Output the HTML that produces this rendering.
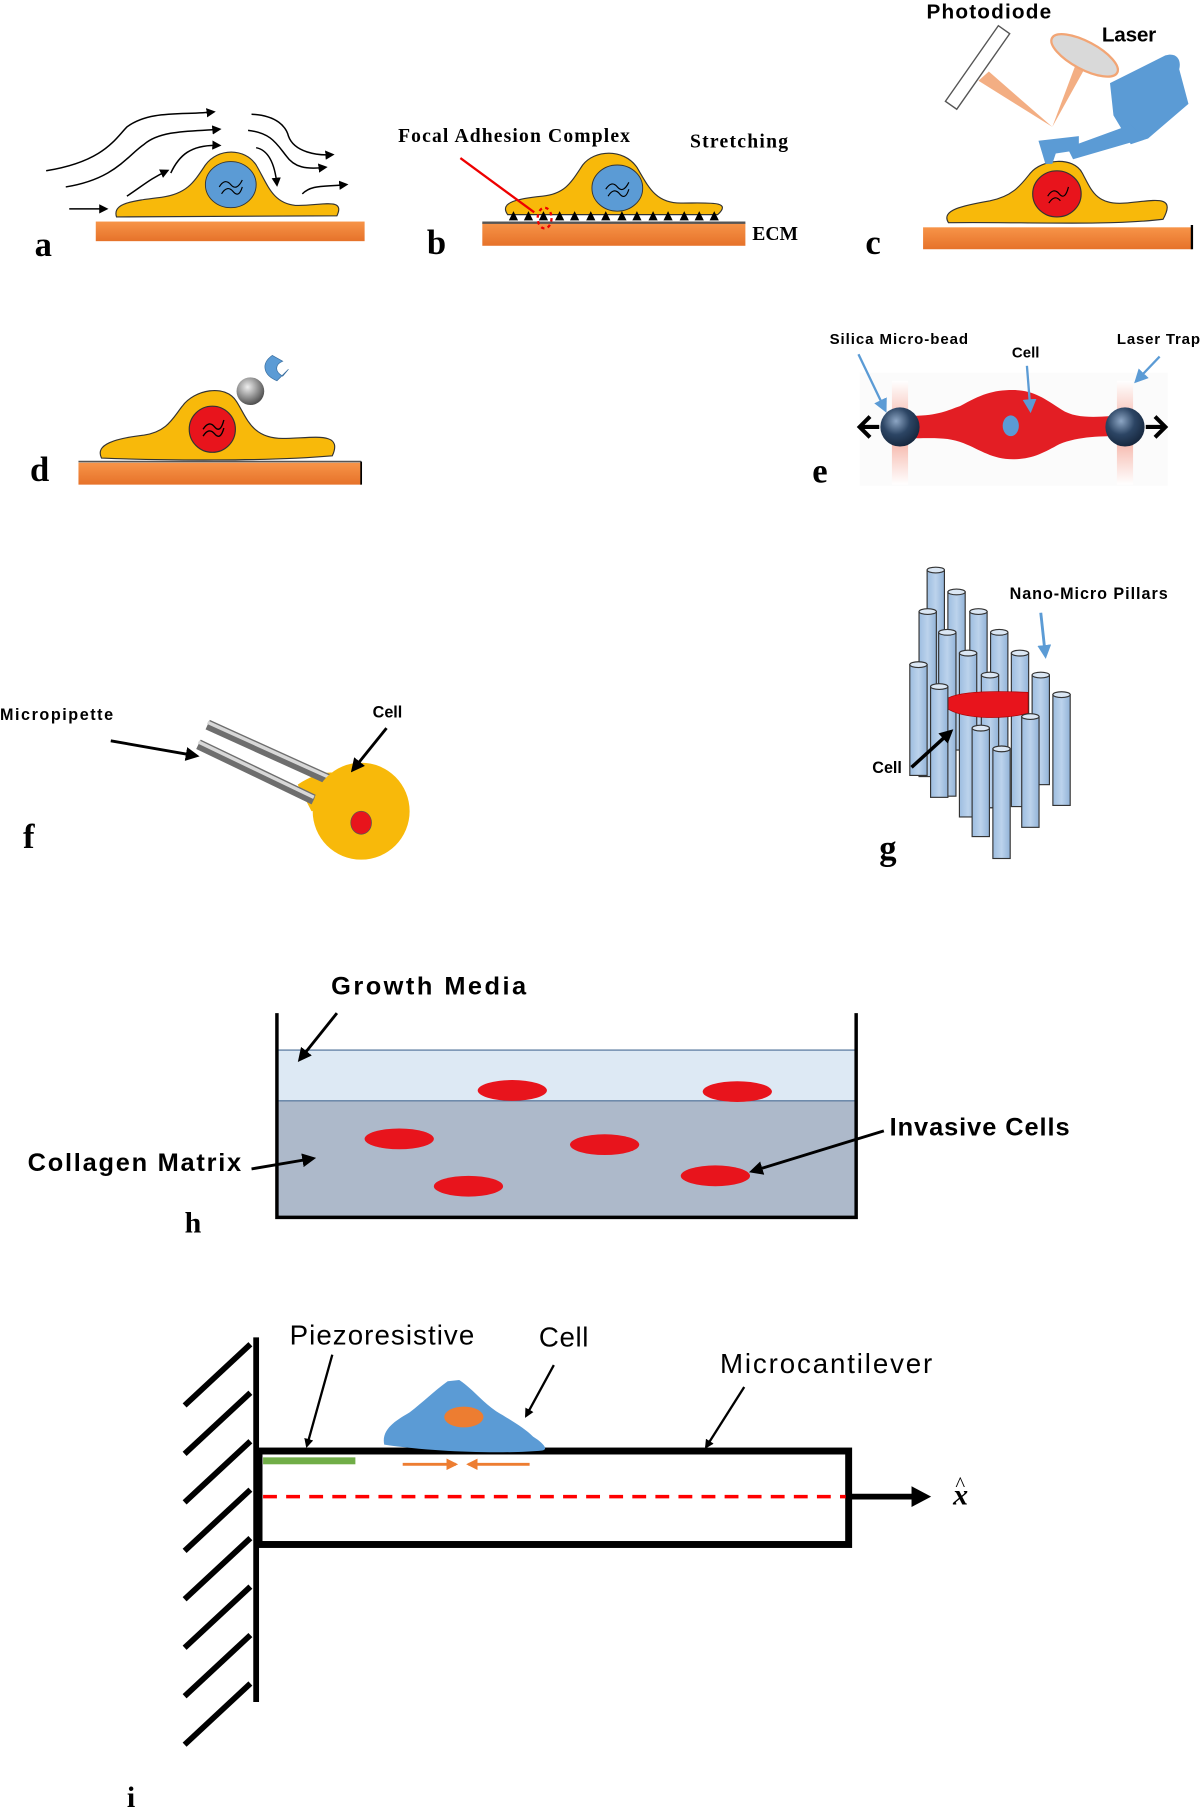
<!DOCTYPE html>
<html><head><meta charset="utf-8"><style>html,body{margin:0;padding:0;background:#fff}svg{display:block}</style></head>
<body>
<svg width="1200" height="1807" viewBox="0 0 1040 1566" preserveAspectRatio="none" xmlns="http://www.w3.org/2000/svg">
<defs>
<linearGradient id="sub" x1="0" y1="0" x2="0" y2="1"><stop offset="0" stop-color="#f79448"/><stop offset="1" stop-color="#e6722a"/></linearGradient>
<linearGradient id="pil" x1="0" y1="0" x2="1" y2="0"><stop offset="0" stop-color="#9dbde0"/><stop offset="0.5" stop-color="#bcd3ec"/><stop offset="1" stop-color="#92b3d8"/></linearGradient>
<radialGradient id="bead" cx="0.4" cy="0.35" r="0.7"><stop offset="0" stop-color="#8da6c4"/><stop offset="0.5" stop-color="#2c4564"/><stop offset="1" stop-color="#14243a"/></radialGradient>
<radialGradient id="gb" cx="0.4" cy="0.35" r="0.7"><stop offset="0" stop-color="#eee"/><stop offset="1" stop-color="#444"/></radialGradient>
<linearGradient id="trap" x1="0" y1="0" x2="0" y2="1"><stop offset="0" stop-color="#fff"/><stop offset="0.5" stop-color="#f4a99b"/><stop offset="1" stop-color="#fff"/></linearGradient>
<marker id="ah" markerWidth="8" markerHeight="8" refX="6" refY="4" orient="auto" markerUnits="userSpaceOnUse"><path d="M0,0 L8,4 L0,8 Z" fill="#000"/></marker>
<marker id="ahb" markerWidth="12" markerHeight="12" refX="9" refY="6" orient="auto" markerUnits="userSpaceOnUse"><path d="M0,0 L12,6 L0,12 Z" fill="#000"/></marker>
<marker id="ahl" markerWidth="12" markerHeight="12" refX="9" refY="6" orient="auto" markerUnits="userSpaceOnUse"><path d="M0,0 L12,6 L0,12 Z" fill="#5b9bd5"/></marker>
<marker id="aho" markerWidth="10" markerHeight="10" refX="8" refY="5" orient="auto" markerUnits="userSpaceOnUse"><path d="M0,0 L10,5 L0,10 Z" fill="#ed7d31"/></marker>
</defs>

<!-- Panel a -->
<rect x="83" y="192" width="233" height="17" fill="url(#sub)"/>
<path d="M101,188 C97,176 115,174 140,171 C162,168 168,158 178,143 C189,128 212,128 222,143 C232,160 236,176 256,178 C276,179 300,170 292,187 Z" fill="#f8b90a" stroke="#333" stroke-width="1"/>
<ellipse cx="200" cy="160" rx="22" ry="20" fill="#5b9bd5" stroke="#333" stroke-width="0.8"/>
<path d="M190,162 q5,-8 10,-2 q5,6 10,-4 M192,168 q5,-8 10,-2 q5,6 8,-4" stroke="#000" stroke-width="1" fill="none"/>
<g stroke="#000" stroke-width="1.3" fill="none" marker-end="url(#ah)">
<path d="M40,148 C90,140 100,120 110,110 C130,95 160,100 185,97"/>
<path d="M57,162 C100,155 110,135 125,125 C140,112 170,114 190,112"/>
<path d="M110,170 C125,160 130,155 145,148"/>
<path d="M148,150 C155,135 165,125 190,126"/>
<path d="M218,99 C240,100 248,110 250,118 C255,132 275,135 288,134"/>
<path d="M215,113 C235,115 240,125 248,135 C255,145 265,147 282,145"/>
<path d="M222,128 C232,130 238,140 240,160"/>
<path d="M262,168 C270,160 280,162 300,160"/>
<path d="M60,181 L92,181"/>
</g>
<text x="30" y="222" font-family="Liberation Serif,serif" font-weight="bold" font-size="30">a</text>

<!-- Panel b -->
<rect x="418" y="193" width="228" height="20" fill="url(#sub)"/>
<line x1="418" y1="193" x2="646" y2="193" stroke="#555" stroke-width="2"/>
<path d="M440,186 C432,175 450,172 470,170 C490,168 495,158 505,143 C515,130 540,128 552,145 C562,162 568,176 590,176 C615,176 635,174 622,186 Z" fill="#f8b90a" stroke="#333"/>
<ellipse cx="535" cy="163" rx="22" ry="20" fill="#5b9bd5" stroke="#333" stroke-width="0.8"/>
<path d="M525,164 q5,-8 10,-2 q5,6 10,-4 M527,170 q5,-8 10,-2 q5,6 8,-4" stroke="#000" stroke-width="1" fill="none"/>
<g fill="#000">
<path d="M441,191 l4,-8 l4,8z M454,191 l4,-8 l4,8z M467,191 l4,-8 l4,8z M481,191 l4,-8 l4,8z M494,191 l4,-8 l4,8z M508,191 l4,-8 l4,8z M521,191 l4,-8 l4,8z M535,191 l4,-8 l4,8z M548,191 l4,-8 l4,8z M562,191 l4,-8 l4,8z M575,191 l4,-8 l4,8z M589,191 l4,-8 l4,8z M602,191 l4,-8 l4,8z M615,191 l4,-8 l4,8z"/>
</g>
<line x1="399" y1="137" x2="463" y2="184" stroke="#e00" stroke-width="2"/>
<ellipse cx="472" cy="189" rx="6" ry="9" fill="none" stroke="#e00" stroke-width="2" stroke-dasharray="3,3"/>
<text x="345" y="123" font-family="Liberation Serif,serif" font-weight="bold" font-size="17" textLength="201">Focal Adhesion Complex</text>
<text x="598" y="128" font-family="Liberation Serif,serif" font-weight="bold" font-size="17" textLength="85">Stretching</text>
<text x="652" y="208" font-family="Liberation Serif,serif" font-weight="bold" font-size="17">ECM</text>
<text x="370" y="220" font-family="Liberation Serif,serif" font-weight="bold" font-size="30">b</text>

<!-- Panel c -->
<rect x="800" y="197" width="233" height="19" fill="url(#sub)"/>
<line x1="1033" y1="195" x2="1033" y2="216" stroke="#000" stroke-width="2"/>
<path d="M822,193 C815,182 835,178 858,174 C878,170 885,160 893,150 C903,138 930,135 938,150 C946,165 950,178 975,176 C1000,174 1020,168 1008,190 C960,196 880,192 822,193 Z" fill="#f8b90a" stroke="#333"/>
<ellipse cx="916" cy="168" rx="21" ry="20" fill="#e8141c" stroke="#333"/>
<path d="M908,170 q5,-8 10,-2 q5,6 8,-6 M909,176 q5,-8 10,-2" stroke="#000" stroke-width="1" fill="none"/>
<g transform="translate(850,58) rotate(35)"><rect x="-8" y="-38" width="12" height="80" fill="#fff" stroke="#555" stroke-width="1.2"/></g>
<polygon points="848,70 857,62 912,110" fill="#f2a575" opacity="0.9"/>
<polygon points="933,54 942,56 912,110" fill="#f2a575" opacity="0.9"/>
<ellipse cx="940" cy="48" rx="32" ry="12" transform="rotate(28 940 48)" fill="#d9d9d9" stroke="#f2a575" stroke-width="2"/>
<g fill="#5b9bd5">
<path d="M962,72 L1010,48 C1020,45 1024,52 1022,60 L1030,90 L995,120 L980,125 L965,100 Z"/>
<path d="M980,108 L992,120 L930,138 L925,128 Z"/>
<path d="M900,122 L935,118 L935,130 L915,133 L912,142 L906,142 Z"/>
</g>
<text x="803" y="16" font-family="Liberation Sans,sans-serif" font-weight="bold" font-size="18" textLength="108">Photodiode</text>
<text x="955" y="36" font-family="Liberation Sans,sans-serif" font-weight="bold" font-size="18" textLength="47">Laser</text>
<text x="750" y="220" font-family="Liberation Serif,serif" font-weight="bold" font-size="30">c</text>

<!-- Panel d -->
<rect x="68" y="401" width="245" height="19" fill="url(#sub)"/>
<line x1="68" y1="400" x2="313" y2="400" stroke="#555" stroke-width="1.5"/>
<line x1="313" y1="400" x2="313" y2="420" stroke="#000" stroke-width="1.5"/>
<path d="M88,397 C82,385 100,380 125,377 C145,374 150,362 158,352 C168,338 195,332 205,348 C214,362 218,380 245,380 C270,380 298,373 288,395 C230,400 140,399 88,397 Z" fill="#f8b90a" stroke="#333"/>
<ellipse cx="184" cy="372" rx="20" ry="20" fill="#e8141c" stroke="#333"/>
<path d="M176,372 q5,-8 10,-2 q5,6 8,-6 M176,378 q5,-8 10,-2 q5,6 8,-5" stroke="#000" stroke-width="1.2" fill="none"/>
<circle cx="217" cy="339" r="12" fill="url(#gb)"/>
<path d="M240,330 C228,325 226,315 236,308 L245,313 C238,316 238,322 245,326 L250,320 Z" fill="#5b9bd5" stroke="#3a6fa0" stroke-width="0.6"/>
<text x="26" y="417" font-family="Liberation Serif,serif" font-weight="bold" font-size="30">d</text>

<!-- Panel e -->
<rect x="745" y="323" width="267" height="98" fill="#fbfbfb"/>
<rect x="773" y="330" width="14" height="90" fill="url(#trap)"/>
<rect x="968" y="330" width="14" height="90" fill="url(#trap)"/>
<path d="M780,360 C810,362 820,356 832,352 C850,342 860,338 878,338 C895,338 905,345 920,355 C935,365 960,360 975,360 L975,378 C955,378 935,378 918,385 C905,392 895,398 878,398 C860,398 850,390 835,384 C820,378 805,380 780,380 Z" fill="#e31e24"/>
<ellipse cx="876" cy="369" rx="7" ry="9" fill="#5b9bd5"/>
<circle cx="780" cy="370" r="17" fill="url(#bead)"/>
<circle cx="975" cy="370" r="17" fill="url(#bead)"/>
<path d="M762,370 L746,370 M754,361 L745,370 L754,379" stroke="#000" stroke-width="3.5" fill="none"/>
<path d="M993,370 L1009,370 M1001,361 L1010,370 L1001,379" stroke="#000" stroke-width="3.5" fill="none"/>
<g stroke="#5b9bd5" stroke-width="2" fill="none" marker-end="url(#ahl)">
<line x1="744" y1="307" x2="767" y2="355"/>
<line x1="890" y1="317" x2="893" y2="355"/>
<line x1="1005" y1="309" x2="985" y2="330"/>
</g>
<text x="719" y="298" font-family="Liberation Sans,sans-serif" font-weight="bold" font-size="13" textLength="120">Silica Micro-bead</text>
<text x="877" y="310" font-family="Liberation Sans,sans-serif" font-weight="bold" font-size="13">Cell</text>
<text x="968" y="298" font-family="Liberation Sans,sans-serif" font-weight="bold" font-size="13" textLength="72">Laser Trap</text>
<text x="704" y="418" font-family="Liberation Serif,serif" font-weight="bold" font-size="30">e</text>

<!-- Panel f -->
<path d="M258,680 C270,672 282,668 292,670 L300,692 C290,698 280,700 270,703 Z" fill="#f8b90a"/>
<line x1="180" y1="628" x2="286" y2="676" stroke="#6e6e6e" stroke-width="9"/>
<line x1="172" y1="645" x2="272" y2="693" stroke="#6e6e6e" stroke-width="9"/>
<line x1="180" y1="626" x2="286" y2="674" stroke="#d8d8d8" stroke-width="3"/>
<line x1="172" y1="643" x2="272" y2="691" stroke="#d8d8d8" stroke-width="3"/>
<circle cx="313" cy="703" r="42" fill="#f8b90a"/>
<ellipse cx="313" cy="713" rx="9" ry="10" fill="#e8141c" stroke="#555" stroke-width="0.6"/>
<g stroke="#000" stroke-width="2.5" fill="none" marker-end="url(#ahb)">
<line x1="96" y1="642" x2="170" y2="655"/>
<line x1="335" y1="631" x2="306" y2="667"/>
</g>
<text x="0" y="624" font-family="Liberation Sans,sans-serif" font-weight="bold" font-size="14" textLength="98">Micropipette</text>
<text x="323" y="622" font-family="Liberation Sans,sans-serif" font-weight="bold" font-size="14">Cell</text>
<text x="20" y="735" font-family="Liberation Serif,serif" font-weight="bold" font-size="30">f</text>

<!-- Panel g -->
<g stroke="#333" stroke-width="1" fill="url(#pil)">
<rect x="803.5" y="494" width="15" height="127"/><ellipse cx="811" cy="494" rx="7.5" ry="2.5" fill="#dbe7f4"/>
<rect x="821.5" y="513" width="15" height="137"/><ellipse cx="829" cy="513" rx="7.5" ry="2.5" fill="#dbe7f4"/>
<rect x="796.5" y="530" width="15" height="143"/><ellipse cx="804" cy="530" rx="7.5" ry="2.5" fill="#dbe7f4"/>
<rect x="840.5" y="530" width="15" height="150"/><ellipse cx="848" cy="530" rx="7.5" ry="2.5" fill="#dbe7f4"/>
<rect x="813.5" y="548" width="15" height="142"/><ellipse cx="821" cy="548" rx="7.5" ry="2.5" fill="#dbe7f4"/>
<rect x="858.5" y="548" width="15" height="152"/><ellipse cx="866" cy="548" rx="7.5" ry="2.5" fill="#dbe7f4"/>
<rect x="788.5" y="576" width="15" height="96"/><ellipse cx="796" cy="576" rx="7.5" ry="2.5" fill="#dbe7f4"/>
<rect x="831.5" y="566" width="15" height="142"/><ellipse cx="839" cy="566" rx="7.5" ry="2.5" fill="#dbe7f4"/>
<rect x="876.5" y="566" width="15" height="133"/><ellipse cx="884" cy="566" rx="7.5" ry="2.5" fill="#dbe7f4"/>
<rect x="850.5" y="585" width="15" height="115"/><ellipse cx="858" cy="585" rx="7.5" ry="2.5" fill="#dbe7f4"/>
<rect x="894.5" y="585" width="15" height="95"/><ellipse cx="902" cy="585" rx="7.5" ry="2.5" fill="#dbe7f4"/>
</g>
<path d="M817,611 C817,600 850,598 891,600 L891,618 C870,624 830,624 817,611 Z" fill="#e8141c" stroke="#a00" stroke-width="0.6"/>
<g stroke="#333" stroke-width="1" fill="url(#pil)">
<rect x="806.5" y="595" width="15" height="96"/><ellipse cx="814" cy="595" rx="7.5" ry="2.5" fill="#dbe7f4"/>
<rect x="912.5" y="602" width="15" height="96"/><ellipse cx="920" cy="602" rx="7.5" ry="2.5" fill="#dbe7f4"/>
<rect x="885.5" y="621" width="15" height="96"/><ellipse cx="893" cy="621" rx="7.5" ry="2.5" fill="#dbe7f4"/>
<rect x="842.5" y="631" width="15" height="94"/><ellipse cx="850" cy="631" rx="7.5" ry="2.5" fill="#dbe7f4"/>
<rect x="860.5" y="649" width="15" height="95"/><ellipse cx="868" cy="649" rx="7.5" ry="2.5" fill="#dbe7f4"/>
</g>
<line x1="790" y1="665" x2="824" y2="634" stroke="#000" stroke-width="3" marker-end="url(#ahb)"/>
<line x1="902" y1="531" x2="906" y2="568" stroke="#5b9bd5" stroke-width="2.5" marker-end="url(#ahl)"/>
<text x="875" y="519" font-family="Liberation Sans,sans-serif" font-weight="bold" font-size="14" textLength="137">Nano-Micro Pillars</text>
<text x="756" y="670" font-family="Liberation Sans,sans-serif" font-weight="bold" font-size="14">Cell</text>
<text x="762" y="745" font-family="Liberation Serif,serif" font-weight="bold" font-size="30">g</text>

<!-- Panel h -->
<rect x="241" y="910" width="500" height="44" fill="#dde9f4"/>
<rect x="241" y="954" width="500" height="100" fill="#adb9ca"/>
<line x1="241" y1="910" x2="741" y2="910" stroke="#4a6c94" stroke-width="1"/>
<line x1="241" y1="954" x2="741" y2="954" stroke="#4a6c94" stroke-width="1"/>
<path d="M240,878 L240,1055 L742,1055 L742,878" fill="none" stroke="#000" stroke-width="3"/>
<g fill="#e8141c">
<ellipse cx="444" cy="945" rx="30" ry="9"/>
<ellipse cx="639" cy="946" rx="30" ry="9"/>
<ellipse cx="346" cy="987" rx="30" ry="9"/>
<ellipse cx="524" cy="992" rx="30" ry="9"/>
<ellipse cx="406" cy="1028" rx="30" ry="9"/>
<ellipse cx="620" cy="1019" rx="30" ry="9"/>
</g>
<g stroke="#000" stroke-width="2.5" fill="none" marker-end="url(#ahb)">
<line x1="292" y1="878" x2="260" y2="918"/>
<line x1="218" y1="1013" x2="271" y2="1004"/>
<line x1="766" y1="980" x2="652" y2="1015"/>
</g>
<text x="287" y="862" font-family="Liberation Sans,sans-serif" font-weight="bold" font-size="22" textLength="169">Growth Media</text>
<text x="24" y="1015" font-family="Liberation Sans,sans-serif" font-weight="bold" font-size="22" textLength="185">Collagen Matrix</text>
<text x="771" y="984" font-family="Liberation Sans,sans-serif" font-weight="bold" font-size="22" textLength="156">Invasive Cells</text>
<text x="160" y="1068" font-family="Liberation Serif,serif" font-weight="bold" font-size="26">h</text>

<!-- Panel i -->
<line x1="222" y1="1159" x2="222" y2="1475" stroke="#000" stroke-width="5"/>
<g stroke="#000" stroke-width="5">
<line x1="160" y1="1218" x2="217" y2="1165"/>
<line x1="160" y1="1260" x2="217" y2="1207"/>
<line x1="160" y1="1302" x2="217" y2="1249"/>
<line x1="160" y1="1344" x2="217" y2="1291"/>
<line x1="160" y1="1386" x2="217" y2="1333"/>
<line x1="160" y1="1428" x2="217" y2="1375"/>
<line x1="160" y1="1470" x2="217" y2="1417"/>
<line x1="160" y1="1512" x2="217" y2="1459"/>
</g>
<rect x="224.5" y="1257.5" width="511" height="81" fill="none" stroke="#000" stroke-width="6"/>
<rect x="228" y="1263" width="80" height="6" fill="#70ad47"/>
<line x1="228" y1="1297" x2="733" y2="1297" stroke="#f00" stroke-width="3" stroke-dasharray="12,8"/>
<line x1="738" y1="1297" x2="793" y2="1297" stroke="#000" stroke-width="5"/>
<path d="M790,1288 L807,1297 L790,1306 Z" fill="#000"/>
<text x="826" y="1304" font-family="Liberation Serif,serif" font-style="italic" font-weight="bold" font-size="26">x</text>
<text x="828" y="1292" font-family="Liberation Serif,serif" font-size="18">^</text>
<path d="M333,1252 C330,1238 345,1230 355,1224 C368,1214 378,1204 388,1197 L398,1196 C410,1204 418,1215 430,1223 C445,1232 455,1238 462,1245 C470,1250 476,1256 470,1257 C440,1260 380,1259 333,1252 Z" fill="#5b9bd5"/>
<ellipse cx="402" cy="1228" rx="17" ry="9" fill="#ed7d31"/>
<line x1="349" y1="1269" x2="395" y2="1269" stroke="#ed7d31" stroke-width="2.5" marker-end="url(#aho)"/>
<line x1="459" y1="1269" x2="406" y2="1269" stroke="#ed7d31" stroke-width="2.5" marker-end="url(#aho)"/>
<g stroke="#000" stroke-width="2" fill="none" marker-end="url(#ah)">
<line x1="288" y1="1174" x2="266" y2="1253"/>
<line x1="480" y1="1183" x2="456" y2="1227"/>
<line x1="645" y1="1202" x2="612" y2="1254"/>
</g>
<text x="251" y="1165" font-family="Liberation Sans,sans-serif" font-size="24" textLength="160">Piezoresistive</text>
<text x="467" y="1167" font-family="Liberation Sans,sans-serif" font-size="24" textLength="43">Cell</text>
<text x="624" y="1190" font-family="Liberation Sans,sans-serif" font-size="24" textLength="184">Microcantilever</text>
<text x="110" y="1566" font-family="Liberation Serif,serif" font-weight="bold" font-size="26">i</text>
</svg>
</body></html>
